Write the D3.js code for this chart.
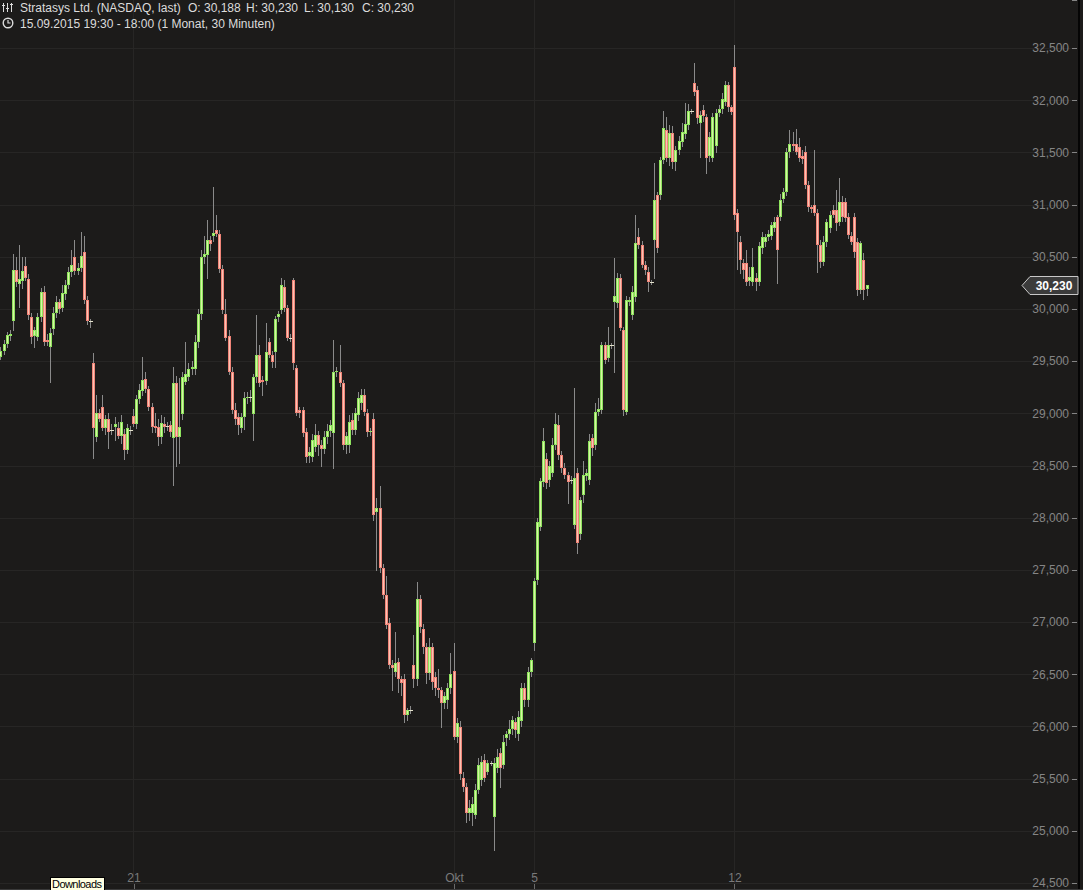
<!DOCTYPE html>
<html><head><meta charset="utf-8">
<script src="https://cdn.jsdelivr.net/npm/d3@7"></script>
<style>
html,body{margin:0;padding:0;background:#1c1b1a;overflow:hidden}
svg{display:block}
text{font-family:"Liberation Sans",Arial,sans-serif}
</style></head><body>
<svg id="chart" width="1083" height="890"></svg>
<script>
// ---- data ----
const title = "Stratasys Ltd. (NASDAQ, last)";
const quoteLabels = ["O:", "H:", "L:", "C:"];
const quoteValues = ["30,188", "30,230", "30,130", "30,230"];
const periodText = "15.09.2015 19:30 - 18:00 (1 Monat, 30 Minuten)";
const yTicks = [24500,25000,25500,26000,26500,27000,27500,28000,28500,29000,29500,30000,30500,31000,31500,32000,32500];
const xTickIndex = [44, 148, 174, 239];
const xTickLabels = ["21", "Okt", "5", "12"];
const lastPrice = 30230;
// 30-minute candles [open, high, low, close], one line per trading day
const candles = [
[29520,29600,29480,29560],[29540,29640,29520,29600],[29600,29700,29570,29660],[29660,29780,29640,29750],[29740,29800,29700,29760],
[29880,30530,29800,30375],[30375,30500,30220,30258],[30240,30615,30020,30290],[30270,30500,30200,30360],[30410,30500,30280,30295],[30290,30330,29900,29940],[29920,29960,29675,29730],[29740,29830,29640,29800],[29730,29960,29700,29920],[29920,30200,29880,30160],[30160,30220,29650,29680],[29700,29760,29650,29680],[29640,29820,29300,29770],
[29810,30020,29760,29960],[29960,30120,29920,30070],[30070,30100,29960,30000],[30010,30230,29980,30150],[30140,30280,30100,30230],[30230,30400,30200,30350],[30350,30560,30320,30420],[30500,30660,30330,30360],[30360,30440,30330,30390],[30390,30740,30360,30510],[30550,30700,30060,30090],[30090,30120,29860,29880],[29880,29900,29830,29880],
[29480,29580,28570,28860],[28770,29180,28730,29000],[29000,29040,28930,28950],[29060,29180,28840,28860],[28860,28980,28800,28950],[28950,29000,28670,28820],[28840,28900,28800,28840],[28870,28960,28740,28900],[28860,28920,28760,28780],[28780,28980,28720,28920],[28800,28850,28560,28650],[28650,28900,28620,28860],[28840,28880,28800,28840],
[28970,29040,28880,28900],[28900,29180,28860,29140],[29140,29280,29100,29220],[29210,29540,29180,29320],[29330,29400,29200,29230],[29230,29260,29030,29060],[29060,29100,28820,28870],[28880,29000,28820,28860],[28870,28950,28700,28770],[28770,28980,28720,28910],[28900,28960,28820,28870],[28880,28920,28840,28880],[28890,28930,28780,28820],
[28760,29440,28310,29290],[29290,29360,28500,28770],[28770,29340,28520,28870],[28990,29400,28950,29350],[29300,29680,29280,29380],[29350,29480,29320,29420],[29420,29500,29380,29440],[29420,29750,29380,29680],[29680,30000,29640,29950],[29950,30560,29900,30500],[30500,30700,30440,30530],[30520,30850,30300,30660],[30660,30700,30560,30620],
[30700,31170,30650,30730],[30760,30900,30700,30720],[30720,30760,30350,30380],[30380,30420,29960,29990],[29950,30100,29700,29720],[29740,29800,29380,29400],[29400,29440,29000,29030],[29030,29100,28900,28950],[28960,29000,28800,28890],[28860,29000,28820,28960],[28960,29200,28850,29150],[29150,29200,29100,29160],[29160,29220,29120,29160],
[28990,29380,28740,29350],[29350,29940,29300,29560],[29560,29650,29260,29290],[29320,29360,29180,29300],[29310,29870,29280,29590],[29680,29720,29540,29560],[29560,29600,29440,29490],[29590,29930,29440,29900],[29920,29980,29880,29950],[29990,30300,29960,30230],[30210,30280,29980,30010],[30010,30040,29700,29720],[29720,29760,29690,29720],
[30280,30300,29420,29480],[29430,29460,28980,29000],[29030,29060,28960,29000],[29030,29060,28780,28810],[28820,28860,28530,28580],[28590,28680,28530,28630],[28580,28800,28540,28740],[28680,28900,28640,28790],[28790,28830,28600,28700],[28700,28740,28500,28660],[28660,28830,28620,28770],[28770,28900,28720,28830],[28830,28940,28780,28890],
[28810,29700,28480,29400],[29400,29440,29360,29410],[29400,29650,29260,29290],[29290,29320,28660,28700],[28700,28820,28620,28780],[28700,28980,28630,28920],[28940,29000,28800,28840],[28840,29050,28800,29000],[28980,29200,28940,29150],[29100,29230,29040,29180],[29180,29230,28980,29010],[29000,29040,28780,28820],[28820,28860,28790,28830],
[28950,29000,27980,28030],[28050,28190,27500,28090],[28090,28300,27480,27520],[27520,27560,27230,27260],[27260,27440,26940,26970],[26990,27040,26560,26590],[26590,26640,26350,26560],[26520,26900,26480,26610],[26620,26660,26330,26450],[26450,26480,26300,26420],[26450,26500,26040,26110],[26110,26180,26060,26160],[26160,26200,26130,26160],
[26590,26880,26380,26450],[26450,27380,26400,27220],[27220,27260,26900,26950],[26930,26980,26700,26760],[26760,26800,26420,26510],[26510,26850,26450,26760],[26760,26800,26360,26430],[26470,26520,26300,26370],[26370,26550,26280,26350],[26350,26380,25990,26220],[26220,26330,26180,26290],[26250,26420,26180,26370],[26370,26700,26320,26500],
[26530,26800,25880,25900],[25900,26080,25850,26030],[25990,26050,25500,25540],[25510,25560,25380,25420],[25420,25460,25080,25170],[25170,25300,25100,25220],[25170,25320,25060,25260],[25150,25450,25120,25390],[25390,25700,25360,25630],[25490,25720,25440,25660],[25680,25740,25480,25510],[25560,25680,25540,25650],[25650,25670,25630,25650],
[25130,25700,24820,25650],[25600,25780,25560,25710],[25750,25790,25420,25600],[25630,25920,25600,25850],[25890,25960,25820,25930],[25930,26060,25880,25980],[25980,26100,25930,26060],[26040,26080,25900,25970],[25930,26150,25870,26090],[26050,26420,26000,26370],[26370,26420,26200,26250],[26250,26570,26200,26520],[26520,26660,26480,26640],
[26800,27420,26730,27390],[27400,28000,27360,27960],[27910,28380,27880,28350],[28340,28860,28300,28730],[28560,28620,28280,28330],[28360,28540,28300,28500],[28430,28760,28400,28700],[28700,29000,28660,28900],[28890,28980,28560,28600],[28600,28640,28440,28480],[28480,28520,28380,28410],[28410,28440,28140,28340],[28360,28400,28330,28360],
[27930,29240,27900,28380],[28430,28480,27660,27760],[27840,28200,27800,28170],[28217,28540,28150,28409],[28400,28470,28360,28430],[28360,28800,28320,28730],[28763,28800,28600,28667],[28700,29100,28660,29010],[29010,29150,28980,29040],[29030,29680,29000,29650],[29650,29680,29480,29510],[29530,29830,29500,29650],[29650,29670,29630,29650],
[30070,30490,29400,30120],[30060,30340,30020,30300],[30300,30330,29800,29820],[29800,29830,28980,29030],[29010,30120,28990,30090],[30070,30110,30040,30090],[29940,30220,29900,30160],[30110,30900,30080,30630],[30690,30780,30580,30610],[30610,30650,30400,30420],[30420,30460,30330,30370],[30350,30400,30170,30260],[30260,30280,30240,30260],
[30660,31400,30300,31040],[31090,31120,30550,30580],[31090,31460,31050,31430],[31430,31900,31400,31730],[31710,31840,31420,31450],[31450,31760,31380,31690],[31690,31750,31350,31410],[31410,31560,31330,31520],[31520,31660,31480,31610],[31600,31780,31560,31700],[31680,31970,31640,31770],[31760,31960,31720,31900],[31900,31920,31880,31900],
[32160,32360,32050,32080],[32100,32140,31780,31830],[31780,31900,31460,31860],[31910,31950,31800,31850],[31840,31870,31300,31450],[31470,31700,31420,31650],[31450,31880,31420,31840],[31560,31920,31500,31880],[31880,31950,31850,31920],[31920,32070,31880,32010],[31980,32180,31950,32150],[32150,32170,31900,31930],[31930,31950,31870,31890],
[32320,32530,30860,30900],[30920,30960,30380,30740],[30640,30700,30340,30470],[30440,30480,30300,30370],[30440,30560,30230,30260],[30270,30400,30230,30310],[30260,30580,30230,30400],[30300,30340,30180,30260],[30260,30640,30230,30600],[30580,30740,30540,30690],[30640,30720,30600,30690],[30690,30760,30660,30720],[30700,30830,30670,30800],
[30780,30880,30750,30830],[30880,30900,30250,30560],[30880,31100,30850,31040],[31050,31160,31020,31120],[31120,31540,31090,31500],[31500,31710,31460,31580],[31580,31700,31520,31560],[31580,31720,31480,31500],[31550,31640,31420,31450],[31470,31520,31400,31440],[31500,31560,31160,31190],[31190,31230,30940,30980],[30980,31000,30930,30960],
[31000,31520,30900,30920],[30920,30960,30350,30610],[30610,30660,30400,30450],[30450,30700,30420,30640],[30640,30860,30600,30830],[30780,30940,30740,30900],[30950,31000,30880,30900],[30950,31140,30760,30820],[30830,31250,30800,31020],[31020,31080,30840,30880],[31020,31060,30840,30870],[30880,30920,30680,30710],[30700,30740,30620,30640],
[30880,30920,30500,30550],[30640,30680,30130,30180],[30180,30650,30150,30630],[30470,30540,30100,30180],[30188,30230,30130,30230]
];

// ---- drawing ----
const W = 1083, H = 890;
const bg = "#1c1b1a", grid = "#272625", axisText = "#858585";
const greenEdge = "#8ee35e", greenIn = "#d8f4a4", redEdge = "#f08478", redIn = "#f8c4b4", dojiCol = "#e4e2cc";
const svg = d3.select("#chart");
const n = candles.length;
const x = d3.scaleLinear().domain([0, n - 1]).range([-2.6, -2.6 + (n - 1) * 3.082]);
const y = d3.scaleLinear().domain([24500, 32500]).range([883, 48]);

svg.append("rect").attr("width", W).attr("height", H).attr("fill", bg);

const gridG = svg.append("g").attr("shape-rendering", "crispEdges");
gridG.selectAll("line.h").data(yTicks).join("line").attr("class", "h")
  .attr("x1", 0).attr("x2", 1077)
  .attr("y1", d => Math.round(y(d)) + 0.5).attr("y2", d => Math.round(y(d)) + 0.5)
  .attr("stroke", grid);
gridG.selectAll("line.v").data(xTickIndex).join("line").attr("class", "v")
  .attr("x1", d => Math.round(x(d)) + 0.5).attr("x2", d => Math.round(x(d)) + 0.5)
  .attr("y1", 0).attr("y2", 883)
  .attr("stroke", grid);

// candles (each record keeps its index)
const rows = candles.map((c, i) => ({ i, o: c[0], h: c[1], l: c[2], c: c[3] }));
const cg = svg.append("g").attr("shape-rendering", "crispEdges");
const cx = d => Math.round(x(d.i));
const bodyTop = d => Math.round(y(Math.max(d.o, d.c)));
const bodyBot = d => Math.round(y(Math.min(d.o, d.c)));
const cs = cg.selectAll("g").data(rows).join("g");
cs.append("line")
  .attr("x1", d => cx(d) + 0.5).attr("x2", d => cx(d) + 0.5)
  .attr("y1", d => Math.round(y(d.h))).attr("y2", d => Math.round(y(d.l)) + 1)
  .attr("stroke", "#8a8a8a");
cs.append("rect")
  .attr("x", d => cx(d) - 1)
  .attr("width", d => d.o === d.c ? 4 : 3)
  .attr("y", d => bodyTop(d))
  .attr("height", d => Math.max(1, bodyBot(d) - bodyTop(d)))
  .attr("fill", d => d.c > d.o ? greenEdge : d.c < d.o ? redEdge : dojiCol);
cs.filter(d => bodyBot(d) - bodyTop(d) > 2).append("rect")
  .attr("x", d => cx(d)).attr("width", 1)
  .attr("y", d => bodyTop(d) + 1)
  .attr("height", d => bodyBot(d) - bodyTop(d) - 2)
  .attr("fill", d => d.c > d.o ? greenIn : redIn);

// right y axis
const yAxis = d3.axisLeft(y).tickValues(yTicks).tickSize(5).tickPadding(3).tickFormat(d3.format(","));
const ya = svg.append("g").attr("transform", "translate(1077,0)").call(yAxis);
ya.select(".domain").remove();
ya.selectAll(".tick line").attr("stroke", axisText).attr("shape-rendering", "crispEdges");
ya.selectAll(".tick text").attr("fill", axisText).attr("font-size", 12)
  .attr("font-family", "'Liberation Sans',Arial,sans-serif");
// tick stub of the clipped level above the top
svg.append("line").attr("x1", 1072).attr("x2", 1077).attr("y1", 0.5).attr("y2", 0.5)
  .attr("stroke", axisText).attr("shape-rendering", "crispEdges");

// bottom x axis (labels above ticks)
const xAxis = d3.axisTop(x).tickValues(xTickIndex).tickSize(6).tickPadding(2)
  .tickFormat((d, i) => xTickLabels[i]);
const xa = svg.append("g").attr("transform", "translate(0.5,890)").call(xAxis);
xa.select(".domain").remove();
xa.selectAll(".tick line").attr("stroke", "#6a6a6a").attr("shape-rendering", "crispEdges");
xa.selectAll(".tick text").attr("fill", "#7a7a7a").attr("font-size", 12)
  .attr("font-family", "'Liberation Sans',Arial,sans-serif");

// right border
svg.append("rect").attr("x", 1078).attr("y", 0).attr("width", 2).attr("height", H).attr("fill", "#050505");
svg.append("rect").attr("x", 0).attr("y", 889).attr("width", W).attr("height", 1).attr("fill", "#3a3a3a");

// last price tag
const py = Math.round(y(lastPrice)) + 0.5;
svg.append("path")
  .attr("d", `M1022,${py} L1030,${py - 9} L1078,${py - 9} L1078,${py + 9} L1030,${py + 9} Z`)
  .attr("fill", "#3b3b3b").attr("stroke", "#c8c8c8").attr("stroke-width", 1);
svg.append("text").attr("x", 1054).attr("y", py + 4.5).attr("text-anchor", "middle")
  .attr("fill", "#ffffff").attr("font-size", 12).attr("font-weight", "bold")
  .text(d3.format(",")(lastPrice));

// header
const hdr = svg.append("g").attr("fill", "#dcdcdc").attr("font-size", 12);
hdr.append("text").attr("x", 20).attr("y", 12).text(title);
quoteLabels.forEach((lab, i) => {
  hdr.append("text").attr("x", 188 + i * 58).attr("y", 12).text(lab + " " + quoteValues[i]);
});
hdr.append("text").attr("x", 20).attr("y", 28).text(periodText);
// slider icon
const ic = svg.append("g").attr("stroke", "#dcdcdc").attr("shape-rendering", "crispEdges");
[[3.5, 5], [7.5, 8], [11.5, 4]].forEach(([xx, k]) => {
  ic.append("line").attr("x1", xx).attr("x2", xx).attr("y1", 3).attr("y2", 12);
  ic.append("line").attr("x1", xx - 1.5).attr("x2", xx + 1.5).attr("y1", k + 0.5).attr("y2", k + 0.5);
});
// clock icon
const ck = svg.append("g").attr("stroke", "#dcdcdc").attr("fill", "none").attr("stroke-width", 1.4);
ck.append("circle").attr("cx", 8).attr("cy", 23).attr("r", 4.8);
ck.append("path").attr("d", "M8,20 L8,23 L10.5,23").attr("stroke-width", 1.2);

// downloads tooltip
svg.append("rect").attr("x", 50.5).attr("y", 877.5).attr("width", 54).attr("height", 13)
  .attr("fill", "#ffffe1").attr("stroke", "#000");
svg.append("text").attr("x", 52).attr("y", 888).attr("fill", "#000").attr("font-size", 11)
  .attr("textLength", 50).text("Downloads");
</script>
</body></html>
